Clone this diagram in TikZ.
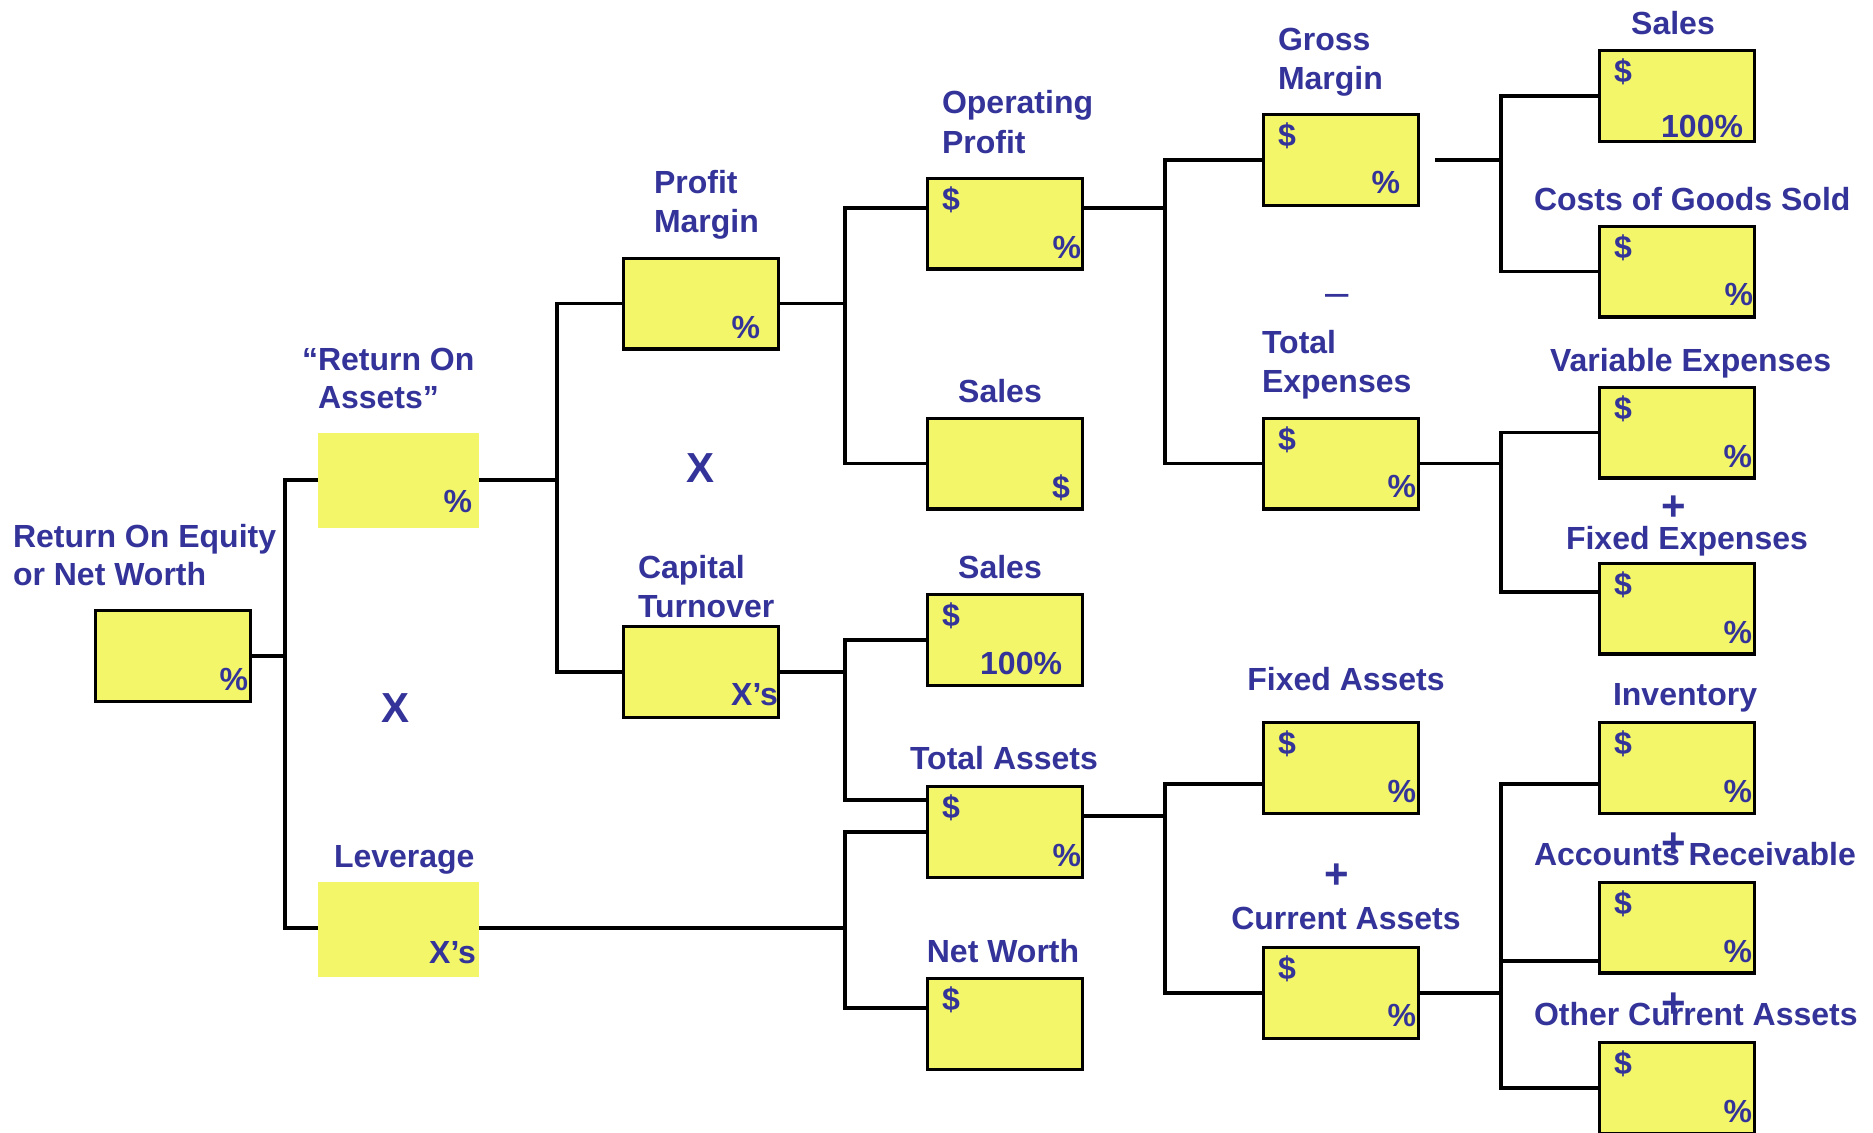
\documentclass[tikz,border=0pt]{standalone}
\usepackage{fontspec}
\setmainfont{Liberation Sans}
\definecolor{txt}{RGB}{51,51,153}
\definecolor{boxy}{RGB}{243,246,104}
\begin{document}
\begin{tikzpicture}[x=0.5pt,y=-0.5pt,
  ln/.style={line width=1.6pt, line join=miter},
  bx/.style={draw=black, line width=1.6pt, fill=boxy, minimum width=77.4pt, minimum height=45.4pt, inner sep=0pt, outer sep=0pt},
  fbx/.style={fill=boxy, minimum width=80.5pt, minimum height=47.5pt, inner sep=0pt, outer sep=0pt},
  lbl/.style={text=txt, font=\bfseries\fontsize{16}{20}\selectfont, inner sep=0pt, outer sep=0pt},
  sym/.style={text=txt, font=\bfseries\fontsize{21}{25}\selectfont, inner sep=0pt, outer sep=0pt},
  dsh/.style={text=txt, font=\fontsize{21}{25}\selectfont, inner sep=0pt, outer sep=0pt}
]
\useasboundingbox (0,0) rectangle (1873,1132);
\fill[white] (0,0) rectangle (1873,1132);

% boxes
\node[bx] (roe) at (173,656) {};
\node[fbx] (roa) at (398.5,480) {};
\node[fbx] (lev) at (398.5,929) {};
\node[bx] (pm) at (701,303.5) {};
\node[bx] (ct) at (701,672) {};
\node[bx] (op) at (1005,223.5) {};
\node[bx] (sm) at (1005,463.5) {};
\node[bx] (sl) at (1005,640) {};
\node[bx] (ta) at (1005,832) {};
\node[bx] (nw) at (1005,1024) {};
\node[bx] (gm) at (1341,160) {};
\node[bx] (te) at (1341,463.5) {};
\node[bx] (fa) at (1341,768) {};
\node[bx] (ca) at (1341,993) {};
\node[bx] (sr) at (1677,96) {};
\node[bx] (cg) at (1677,271.5) {};
\node[bx] (ve) at (1677,432.5) {};
\node[bx] (fe) at (1677,608.5) {};
\node[bx] (iv) at (1677,768) {};
\node[bx] (ar) at (1677,927.5) {};
\node[bx] (oc) at (1677,1088) {};

% trunk x positions
\coordinate (k1) at (285,0);
\coordinate (k2) at (557,0);
\coordinate (k3) at (845,0);
\coordinate (k4) at (1165,0);
\coordinate (k5) at (1501,0);

% connectors
\draw[ln] (roe.east) -- (k1 |- roe.east);
\draw[ln] (roa.west |- 0,480) -- (k1 |- 0,480) -- (k1 |- 0,928) -- (lev.west |- 0,928);
\draw[ln] (roa.east |- 0,480) -- (k2 |- 0,480);
\draw[ln] (pm.west) -- (k2 |- pm.west) -- (k2 |- ct.west) -- (ct.west);
\draw[ln] (pm.east) -- (k3 |- pm.east);
\draw[ln] (op.west |- 0,208) -- (k3 |- 0,208) -- (k3 |- sm.west) -- (sm.west);
\draw[ln] (ct.east) -- (k3 |- ct.east);
\draw[ln] (sl.west) -- (k3 |- sl.west) -- (k3 |- 0,800) -- (ta.west |- 0,800);
\draw[ln] (lev.east |- 0,928) -- (k3 |- 0,928);
\draw[ln] (ta.west) -- (k3 |- ta.west) -- (k3 |- 0,1008) -- (nw.west |- 0,1008);
\draw[ln] (op.east |- 0,208) -- (k4 |- 0,208);
\draw[ln] (gm.west) -- (k4 |- gm.west) -- (k4 |- te.west) -- (te.west);
\draw[ln] (ta.east |- 0,816) -- (k4 |- 0,816);
\draw[ln] (fa.west |- 0,784) -- (k4 |- 0,784) -- (k4 |- ca.west) -- (ca.west);
\draw[ln] ([xshift=8.5pt]gm.east) -- (k5 |- gm.east);
\draw[ln] (sr.west) -- (k5 |- sr.west) -- (k5 |- cg.west) -- (cg.west);
\draw[ln] (te.east) -- (k5 |- te.east);
\draw[ln] (ve.west) -- (k5 |- ve.west) -- (k5 |- 0,592) -- (fe.west |- 0,592);
\draw[ln] (ca.east) -- (k5 |- ca.east);
\draw[ln] (iv.west |- 0,784) -- (k5 |- 0,784) -- (k5 |- 0,1088) -- (oc.west |- 0,1088);
\draw[ln] (k5 |- 0,961) -- (ar.west |- 0,961);

% texts inside boxes
\node[lbl, anchor=base east] (roe-p) at (248,690) {\%};
\node[lbl, anchor=base east] (roa-p) at (472,512) {\%};
\node[lbl, anchor=base east] (lev-x) at (476,963) {X’s};
\node[lbl, anchor=base east] (pm-p) at (760,338) {\%};
\node[lbl, anchor=base east] (ct-x) at (778,705) {X’s};
\node[lbl, anchor=base west] (op-d) at (942,210) {\$};
\node[lbl, anchor=base east] (op-p) at (1081,258) {\%};
\node[lbl, anchor=base east] (sm-d) at (1070,498) {\$};
\node[lbl, anchor=base west] (sl-d) at (942,626) {\$};
\node[lbl, anchor=base east] (sl-p) at (1062,674) {100\%};
\node[lbl, anchor=base west] (ta-d) at (942,818) {\$};
\node[lbl, anchor=base east] (ta-p) at (1081,866) {\%};
\node[lbl, anchor=base west] (nw-d) at (942,1010) {\$};
\node[lbl, anchor=base west] (gm-d) at (1278,146) {\$};
\node[lbl, anchor=base east] (gm-p) at (1400,193) {\%};
\node[lbl, anchor=base west] (te-d) at (1278,450) {\$};
\node[lbl, anchor=base east] (te-p) at (1416,497) {\%};
\node[lbl, anchor=base west] (fa-d) at (1278,754) {\$};
\node[lbl, anchor=base east] (fa-p) at (1416,802) {\%};
\node[lbl, anchor=base west] (ca-d) at (1278,979) {\$};
\node[lbl, anchor=base east] (ca-p) at (1416,1026) {\%};
\node[lbl, anchor=base west] (sr-d) at (1614,82) {\$};
\node[lbl, anchor=base east] (sr-p) at (1743,137) {100\%};
\node[lbl, anchor=base west] (cg-d) at (1614,258) {\$};
\node[lbl, anchor=base east] (cg-p) at (1753,305) {\%};
\node[lbl, anchor=base west] (ve-d) at (1614,419) {\$};
\node[lbl, anchor=base east] (ve-p) at (1752,467) {\%};
\node[lbl, anchor=base west] (fe-d) at (1614,595) {\$};
\node[lbl, anchor=base east] (fe-p) at (1752,643) {\%};
\node[lbl, anchor=base west] (iv-d) at (1614,754) {\$};
\node[lbl, anchor=base east] (iv-p) at (1752,802) {\%};
\node[lbl, anchor=base west] (ar-d) at (1614,914) {\$};
\node[lbl, anchor=base east] (ar-p) at (1752,962) {\%};
\node[lbl, anchor=base west] (oc-d) at (1614,1074) {\$};
\node[lbl, anchor=base east] (oc-p) at (1752,1122) {\%};

% labels
\node[lbl, anchor=base west] (roe-l1) at (13,547) {Return On Equity};
\node[lbl, anchor=base west] (roe-l2) at (13,585) {or Net Worth};
\node[lbl, anchor=base west] (roa-l1) at (318,370) {\llap{“}Return On};
\node[lbl, anchor=base west] (roa-l2) at (318,408) {Assets”};
\node[lbl, anchor=base west] (lev-l) at (334,867) {Leverage};
\node[lbl, anchor=base west] (pm-l1) at (654,193) {Profit};
\node[lbl, anchor=base west] (pm-l2) at (654,232) {Margin};
\node[lbl, anchor=base west] (ct-l1) at (638,578) {Capital};
\node[lbl, anchor=base west] (ct-l2) at (638,617) {Turnover};
\node[lbl, anchor=base west] (op-l1) at (942,113) {Operating};
\node[lbl, anchor=base west] (op-l2) at (942,153) {Profit};
\node[lbl, anchor=base] (sm-l) at (1000,402) {Sales};
\node[lbl, anchor=base] (sl-l) at (1000,578) {Sales};
\node[lbl, anchor=base] (ta-l) at (1004,769) {Total Assets};
\node[lbl, anchor=base] (nw-l) at (1003,962) {Net Worth};
\node[lbl, anchor=base west] (gm-l1) at (1278,50) {Gross};
\node[lbl, anchor=base west] (gm-l2) at (1278,89) {Margin};
\node[lbl, anchor=base west] (te-l1) at (1262,353) {Total};
\node[lbl, anchor=base west] (te-l2) at (1262,392) {Expenses};
\node[lbl, anchor=base] (fa-l) at (1346,690) {Fixed Assets};
\node[lbl, anchor=base] (ca-l) at (1346,929) {Current Assets};
\node[lbl, anchor=base] (sr-l) at (1673,34) {Sales};
\node[lbl, anchor=base west] (cg-l) at (1534,210) {Costs of Goods Sold};
\node[lbl, anchor=base west] (ve-l) at (1550,371) {Variable Expenses};
\node[lbl, anchor=base west] (fe-l) at (1566,549) {Fixed Expenses};
\node[lbl, anchor=base west] (iv-l) at (1613,705) {Inventory};
\node[lbl, anchor=base west] (ar-l) at (1534,865) {Accounts Receivable};
\node[lbl, anchor=base west] (oc-l) at (1534,1025) {Other Current Assets};

% operators
\node[sym, anchor=base] (x1) at (396,722) {X};
\node[sym, anchor=base] (x2) at (700,482) {X};
\node[dsh, anchor=base] (minus1) at (1337,306) {–};
\node[sym, anchor=base] (plus1) at (1337,888) {+};
\node[sym, anchor=base] (plus2) at (1674,520) {+};
\node[sym, anchor=base] (plus3) at (1674,857) {+};
\node[sym, anchor=base] (plus4) at (1674,1017) {+};
\end{tikzpicture}
\end{document}
